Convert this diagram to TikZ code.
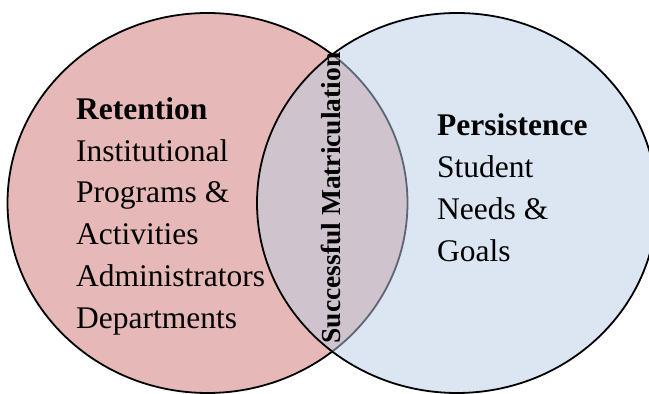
\documentclass[tikz,border=0pt]{standalone}
\usepackage{fontspec}
\setmainfont{Liberation Serif}
\usetikzlibrary{shapes.geometric}

\definecolor{retfill}{HTML}{E6B9B8}
\definecolor{perfill}{HTML}{B9CDE5}

\begin{document}
\begin{tikzpicture}[x=1pt, y=1pt,
   set/.style={ellipse, draw=black, line width=1.8pt, inner sep=0pt,
      minimum width=400pt, minimum height=380pt},
   settext/.style={align=left, anchor=base west, inner sep=0pt,
      font=\fontsize{31.5}{42}\selectfont}]
   \useasboundingbox (0,0) rectangle (649,394);

   \node[set, fill=retfill] (retention) at (207.5,191) {};
   \node[set, fill=perfill, fill opacity=0.5, draw opacity=1] (persistence) at (457,191) {};

   % base anchor sits on the last line
   \node[settext] (rettext) at (76,65)
      {\textbf{Retention}\\Institutional\\Programs \&\\Activities\\Administrators\\Departments};
   \node[settext] (pertext) at (437,132)
      {\textbf{Persistence}\\Student\\Needs \&\\Goals};
   \node[rotate=90, inner sep=0pt, font=\bfseries\fontsize{27.5}{33}\selectfont]
      (matric) at (330.5,196) {Successful Matriculation};
\end{tikzpicture}
\end{document}
